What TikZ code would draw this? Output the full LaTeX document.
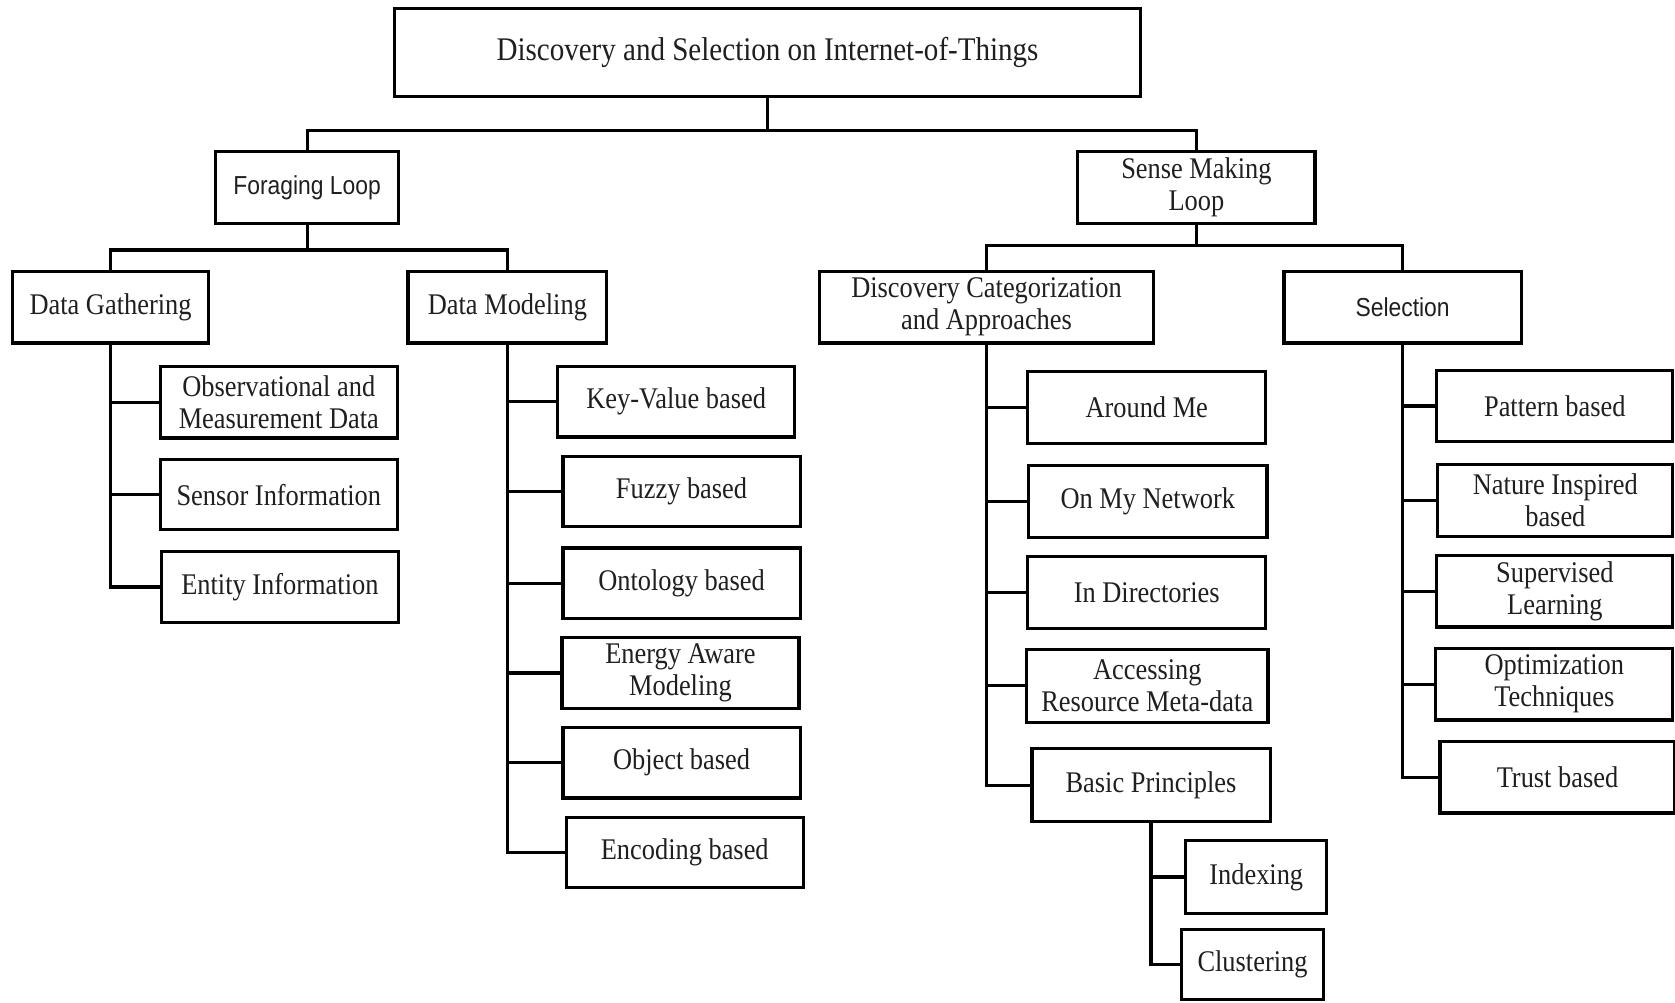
\documentclass[tikz,border=0pt]{standalone}
\usepackage{fontspec}
\setmainfont[FakeStretch=0.88]{Liberation Serif}
\setsansfont[FakeStretch=0.88]{Liberation Sans}
\begin{document}
\begin{tikzpicture}[x=1.0682pt,y=-1.0682pt,
  box/.style={draw, line width=3.2pt, inner sep=2pt, align=center,
    font=\fontsize{30}{32}\selectfont, text=black!88},
  sz/.style 2 args={minimum width=#1*1.0682pt, minimum height=#2*1.0682pt},
  sansbox/.style={box, font=\sffamily\fontsize{26}{28}\selectfont},
  titlebox/.style={box, font=\fontsize{33}{36}\selectfont},
  link/.style={line width=3.2pt}]
\useasboundingbox (0,0) rectangle (1568,938);

% root and first level
\node[titlebox, sz={699}{82}] (top) at (718.5,49) {Discovery and Selection on Internet-of-Things};
\node[sansbox, sz={171}{67}] (forage) at (287.5,175.5) {Foraging Loop};
\node[box, sz={222}{67}] (sense) at (1120,175.5) {Sense Making\\Loop};

% second level
\node[box, sz={183}{67}] (gather) at (103.5,287.5) {Data Gathering};
\node[box, sz={186}{67}] (model) at (475,287.5) {Data Modeling};
\node[box, sz={313}{67}] (disc) at (923.5,287.5) {Discovery Categorization\\and Approaches};
\node[sansbox, sz={222}{67}] (sel) at (1313,287.5) {Selection};

% data gathering
\node[box, sz={222}{67}] (obs) at (261,376.5) {Observational and\\Measurement Data};
\node[box, sz={222}{66}] (sens) at (261,463) {Sensor Information};
\node[box, sz={222}{67}] (ent) at (262,549.5) {Entity Information};

% data modeling
\node[box, sz={222}{66}] (kv) at (633,376) {Key-Value based};
\node[box, sz={222}{66}] (fz) at (638,460) {Fuzzy based};
\node[box, sz={222}{66}] (ont) at (638,546) {Ontology based};
\node[box, sz={222}{66}] (en) at (637,630) {Energy Aware\\Modeling};
\node[box, sz={222}{66}] (obj) at (638,714) {Object based};
\node[box, sz={222}{66}] (enc) at (641,798) {Encoding based};

% discovery categorization
\node[box, sz={223}{67}] (am) at (1073.5,381.5) {Around Me};
\node[box, sz={223}{67}] (omn) at (1074.5,469.5) {On My Network};
\node[box, sz={223}{67}] (dir) at (1073.5,554.5) {In Directories};
\node[box, sz={226}{68}] (acc) at (1074,642) {Accessing\\Resource Meta-data};
\node[box, sz={223}{68}] (bp) at (1077.5,735) {Basic Principles};
\node[box, sz={132}{68}] (idx) at (1176,821) {Indexing};
\node[box, sz={133}{66}] (clu) at (1172.5,903) {Clustering};

% selection
\node[box, sz={221}{66}] (pat) at (1455.5,380) {Pattern based};
\node[box, sz={220}{67}] (nat) at (1456,468.5) {Nature Inspired\\based};
\node[box, sz={221}{67}] (sup) at (1455.5,553.5) {Supervised\\Learning};
\node[box, sz={222}{67}] (opt) at (1455,640.5) {Optimization\\Techniques};
\node[box, sz={220}{67}] (tr) at (1458,727.5) {Trust based};

% tree connectors
\coordinate (j0) at (718.5,122);
\draw[link] (top) -- (j0);
\draw[link] (j0) -| (forage);
\draw[link] (j0) -| (sense);

\coordinate (j1) at (287.5,234);
\draw[link] (forage) -- (j1);
\draw[link] (j1) -| (gather);
\draw[link] (j1) -| (model);

\coordinate (j2) at (1120,230);
\draw[link] (sense) -- (j2);
\draw[link] (j2) -| (disc);
\draw[link] (j2) -| (sel);

% side branches
\draw[link] (gather.south) |- (ent.west);
\foreach \c in {obs,sens} \draw[link] (gather.south |- \c.west) -- (\c.west);

\draw[link] (model.south) |- (enc.west);
\foreach \c in {kv,fz,ont,en,obj} \draw[link] (model.south |- \c.west) -- (\c.west);

\draw[link] (disc.south) |- (bp.west);
\foreach \c in {am,omn,dir,acc} \draw[link] (disc.south |- \c.west) -- (\c.west);

\draw[link] (bp.south) |- (clu.west);
\draw[link] (bp.south |- idx.west) -- (idx.west);

\draw[link] (sel.south) |- (tr.west);
\foreach \c in {pat,nat,sup,opt} \draw[link] (sel.south |- \c.west) -- (\c.west);
\end{tikzpicture}
\end{document}
